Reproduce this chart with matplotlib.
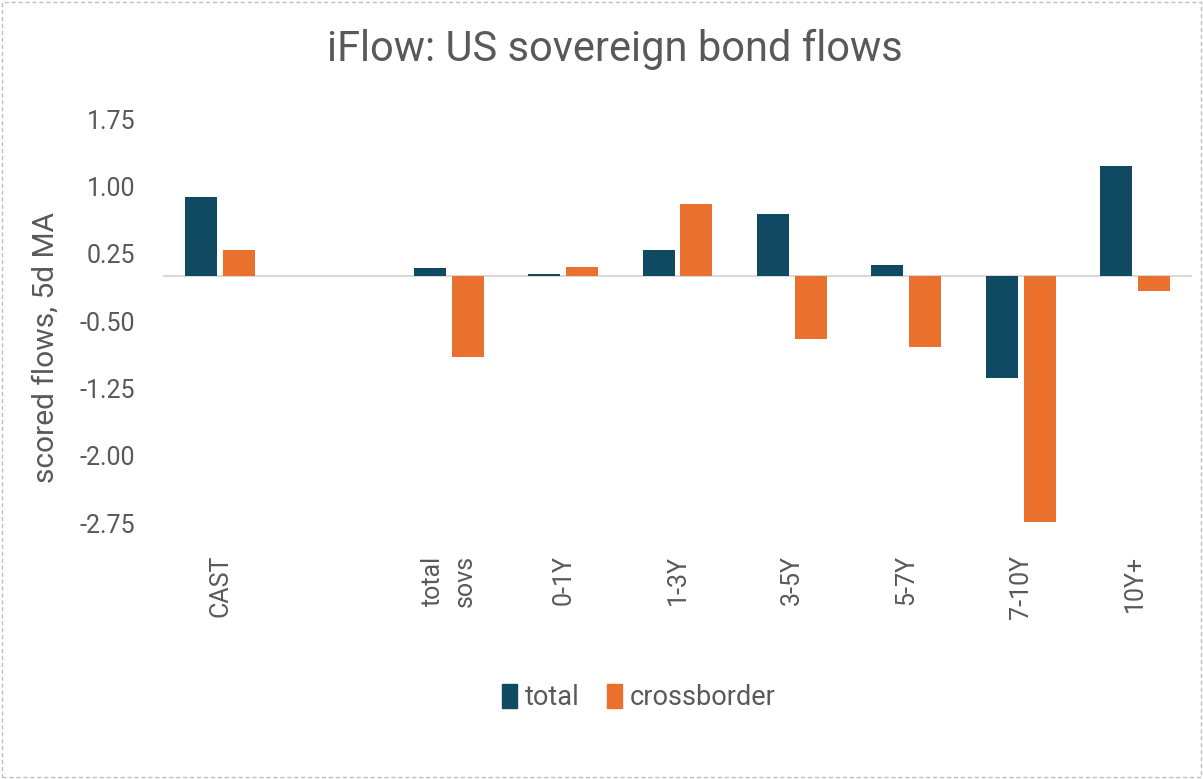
"""
iFlow: US sovereign bond flows - grouped bar chart
"""

import numpy as np
import matplotlib
matplotlib.use('Agg')
import matplotlib.pyplot as plt
from matplotlib.patches import Rectangle, Patch

# colours
COLORS = {
    'total': '#0F4A62',
    'cross': '#EA702D',
    'text': '#595959',
    'title': '#595959',
    'zero': '#D9D9D9',
    'border': '#BFBFBF',
}

plt.rcParams.update({
    'font.family': ['Roboto', 'DejaVu Sans'],
    'figure.facecolor': 'white',
    'axes.facecolor': 'white',
})

# data
categories = ['CAST', '', 'total\nsovs', '0-1Y', '1-3Y', '3-5Y', '5-7Y', '7-10Y', '10Y+']
total = [0.88, np.nan, 0.09, 0.03, 0.29, 0.69, 0.12, -1.13, 1.23]
crossborder = [0.29, np.nan, -0.90, 0.10, 0.80, -0.70, -0.79, -2.74, -0.16]
yticks = [1.75, 1.00, 0.25, -0.50, -1.25, -2.00, -2.75]

fig = plt.figure(figsize=(12.03, 7.79), dpi=100)
ax = fig.add_axes([0.1355, 0.3286, 0.8555, 0.5184])

x = np.arange(len(categories))
w = 0.28
off = 0.165
ax.bar(x - off, total, width=w, color=COLORS['total'], label='total', zorder=3)
ax.bar(x + off, crossborder, width=w, color=COLORS['cross'], label='crossborder', zorder=3)

ax.set_xlim(-0.5, len(categories) - 0.5)
ax.set_ylim(-2.75, 1.75)
ax.axhline(0, color=COLORS['zero'], linewidth=1.5, zorder=2)

ax.set_yticks(yticks)
ax.set_yticklabels([f'{v:.2f}' for v in yticks])
ax.set_xticks(x)
ax.set_xticklabels(categories, rotation=90, va='top', ha='center', linespacing=1.45)
ax.tick_params(axis='both', length=0, colors=COLORS['text'], labelsize=18)
ax.tick_params(axis='y', pad=20)
ax.tick_params(axis='x', pad=23)
for s in ax.spines.values():
    s.set_visible(False)

ax.set_ylabel('scored flows, 5d MA', fontsize=21.5, color=COLORS['text'])
ax.yaxis.set_label_coords(-0.1, 0.435)

fig.text(0.511, 0.937, 'iFlow: US sovereign bond flows', fontsize=30,
         color=COLORS['title'], ha='center', va='center')

handles = [Patch(color=COLORS['total'], label='total'),
           Patch(color=COLORS['cross'], label='crossborder')]
fig.legend(handles=handles, loc='center', bbox_to_anchor=(0.531, 0.105), ncol=2,
           frameon=False, fontsize=19.5, handlelength=0.55, handleheight=1.0,
           handletextpad=0.3, columnspacing=1.0, labelcolor=COLORS['text'])

# dashed frame round the chart
fig.patches.append(Rectangle((0.002, 0.003), 0.996, 0.994, transform=fig.transFigure,
                             fill=False, edgecolor=COLORS['border'], linewidth=1,
                             linestyle=(0, (3, 2))))

fig.savefig('out.png', dpi=100, facecolor='white')
plt.close(fig)
